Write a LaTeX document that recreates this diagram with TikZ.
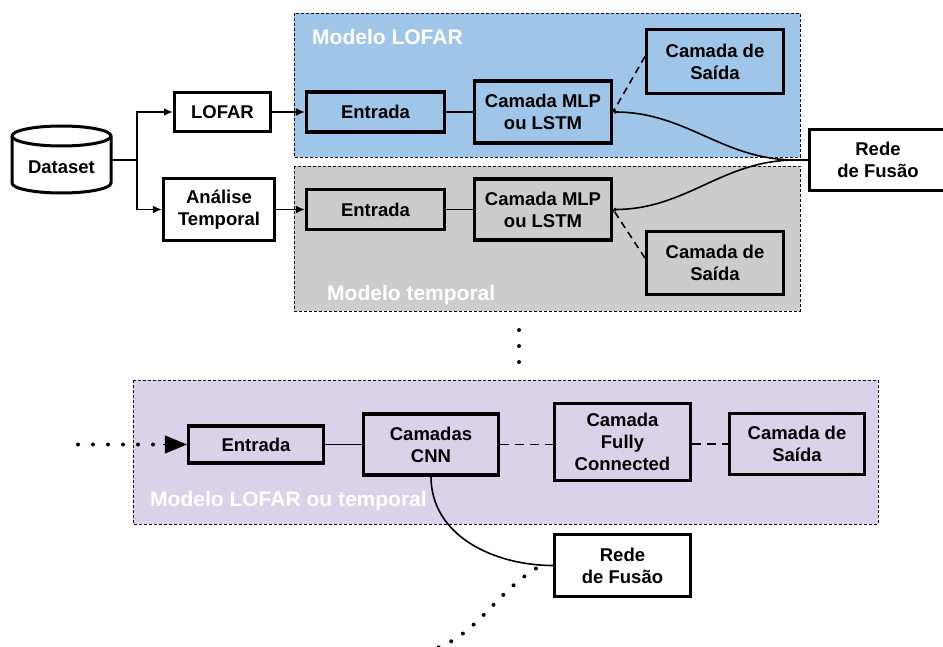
\documentclass[tikz,border=0pt]{standalone}
\usepackage{fontspec}
\setmainfont{Liberation Sans}
\usetikzlibrary{arrows.meta,calc}
\definecolor{lofarblue}{HTML}{9FC5E8}
\definecolor{tempgray}{HTML}{CCCCCC}
\definecolor{cnnlilac}{HTML}{D9D2E9}
\tikzset{
  layer/.style={draw=black, line width=3.2pt, align=center, inner sep=0pt,
    font=\fontsize{18.5}{22}\selectfont\bfseries},
  panel/.style={draw=black, line width=0.8pt, dash pattern=on 3pt off 2pt},
  panellabel/.style={text=white, anchor=west, inner sep=0pt,
    font=\fontsize{21}{24}\selectfont\bfseries},
  link/.style={line width=1.6pt},
  optlink/.style={line width=1.6pt, dash pattern=on 7pt off 5pt},
  fclink/.style={line width=1.6pt, dash pattern=on 9pt off 6pt},
  dotlink/.style={line width=4pt, line cap=round, dash pattern=on 0pt off 15pt},
  feed/.style={link, -{Latex[length=9pt,width=8pt]}},
  tiny/.style={-{Stealth[length=3pt,width=4pt]}}
}
\begin{document}
\begin{tikzpicture}[x=1pt,y=-1pt]
\useasboundingbox (0,0) rectangle (943,647);

% model panels
\path[panel, fill=lofarblue] (294,13) rectangle (800,157);
\path[panel, fill=tempgray] (294,166) rectangle (800,311);
\path[panel, fill=cnnlilac] (133,380) rectangle (878,524);
\node[panellabel] (lblA) at (312,37) {Modelo LOFAR};
\node[panellabel] (lblB) at (327,295) {Modelo temporal};
\node[panellabel] (lblC) at (150,501) {Modelo LOFAR ou temporal};

% dataset cylinder
\draw[line width=3pt, fill=white] (12,136) -- (12,183)
  arc[start angle=180, end angle=360, x radius=49.5pt, y radius=10pt]
  -- (111,136)
  arc[start angle=0, end angle=180, x radius=49.5pt, y radius=10pt] -- cycle;
\draw[line width=3pt] (12,136)
  arc[start angle=180, end angle=360, x radius=49.5pt, y radius=10pt];
\node[inner sep=0pt, minimum width=99pt, minimum height=54pt,
  font=\fontsize{18.5}{22}\selectfont\bfseries] (dataset) at (61.5,167) {Dataset};
\coordinate (branch) at ($(dataset.east)+(0,-7)$);

% preprocessing
\node[layer, fill=white, minimum width=96pt, minimum height=39pt] (lofar) at (222.5,112) {LOFAR};
\node[layer, fill=white, minimum width=111pt, minimum height=62pt] (analise) at (219,209.5) {Análise\\Temporal};

% LOFAR model
\node[layer, fill=lofarblue, minimum width=138pt, minimum height=40pt] (in1) at (375.5,112) {Entrada};
\node[layer, fill=lofarblue, minimum width=137pt, minimum height=62pt] (mlp1) at (543,112) {Camada MLP\\ou LSTM};
\node[layer, fill=lofarblue, minimum width=137pt, minimum height=64pt] (out1) at (715,61.5) {Camada de\\Saída};

% temporal model
\node[layer, fill=tempgray, minimum width=138pt, minimum height=40pt] (in2) at (375.5,209.5) {Entrada};
\node[layer, fill=tempgray, minimum width=137pt, minimum height=61pt] (mlp2) at (543,209.5) {Camada MLP\\ou LSTM};
\node[layer, fill=tempgray, minimum width=137pt, minimum height=63pt] (out2) at (715,263) {Camada de\\Saída};

% fusion network
\node[layer, fill=white, minimum width=137pt, minimum height=61pt] (rede1) at (878,160) {Rede\\de Fusão};

% generic CNN model
\node[layer, fill=cnnlilac, minimum width=135pt, minimum height=37pt] (in3) at (256,444.5) {Entrada};
\node[layer, fill=cnnlilac, minimum width=135pt, minimum height=61pt] (cnn) at (431,444.5) {Camadas\\CNN};
\node[layer, fill=cnnlilac, minimum width=136pt, minimum height=77pt] (fc) at (622.5,442) {Camada\\Fully\\Connected};
\node[layer, fill=cnnlilac, minimum width=135pt, minimum height=61pt] (out3) at (797,444) {Camada de\\Saída};
\node[layer, fill=white, minimum width=136pt, minimum height=62pt] (rede2) at (622.5,565.5) {Rede\\de Fusão};

% data flow
\draw[feed] (branch) -- ++(26,0) |- (lofar.west);
\draw[feed] (branch) -- ++(26,0) |- (analise.west);
\draw[feed] (lofar.east) -- (in1.west);
\draw[feed] (analise.east) -- (in2.west);
\draw[link] (in1.east) -- (mlp1.west);
\draw[link] (in2.east) -- (mlp2.west);
\draw[optlink, tiny] ($(out1.west)+(0,-5)$) -- (mlp1.east);
\draw[optlink, tiny] ($(out2.west)+(0,-5)$) -- (mlp2.east);
\draw[link, tiny] (rede1.west) -- ++(-12,0) coordinate (join)
  to[out=180, in=0] (mlp1.east);
\draw[link, tiny] (join) to[out=180, in=0] (mlp2.east);

% continuation marks
\fill (519,330) circle[radius=2pt];
\fill (519,346) circle[radius=2pt];
\fill (519,362) circle[radius=2pt];

\coordinate (feedstart) at (78,444.5);
\draw[dotlink] (feedstart) -- ($(in3.west)+(-24,0)$);
\draw[line width=1pt, -{Triangle[length=22pt,width=18pt]}] ($(in3.west)+(-24,0)$) -- (in3.west);
\draw[link] (in3.east) -- (cnn.west);
\draw[fclink] (cnn.east) -- (fc.west |- cnn.east);
\draw[fclink] (fc.east |- out3.west) -- (out3.west);
\draw[link] (cnn.south) to[out=-90, in=180] (rede2.west);
\coordinate (tailend) at (425,652);
\draw[dotlink, dash pattern=on 0pt off 14pt] ($(rede2.west)+(-17,3)$) to[out=212, in=15] (tailend);
\end{tikzpicture}
\end{document}
